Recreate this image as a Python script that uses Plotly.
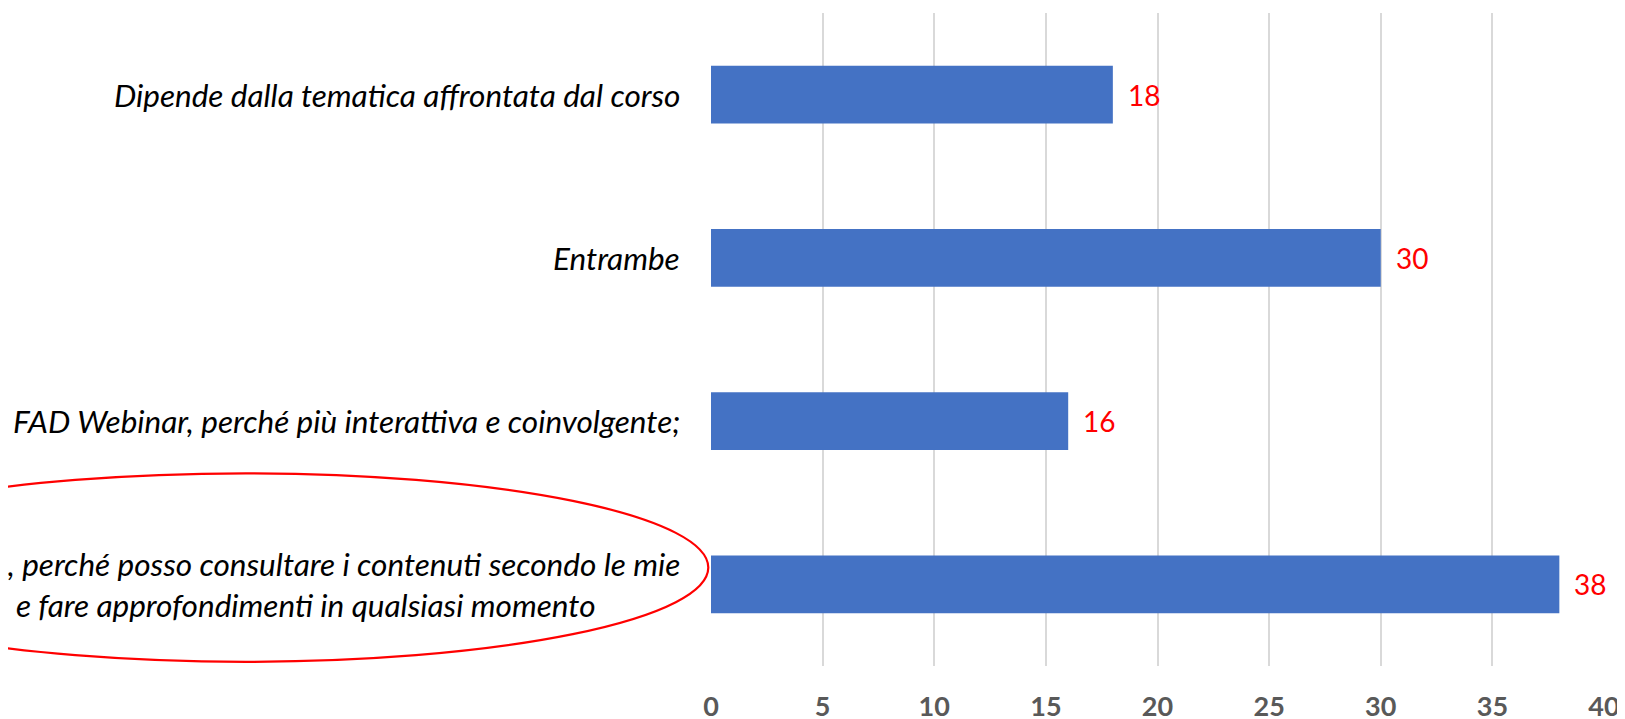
import plotly.graph_objects as go

categories = [
    "Dipende dalla tematica affrontata dal corso",
    "Entrambe",
    "FAD Webinar, perché più interattiva e coinvolgente;",
    "FAD Asincrona, perché posso consultare i contenuti secondo le mie<br>esigenze e fare approfondimenti in qualsiasi momento",
]
values = [18, 30, 16, 38]
x_ticks = [0, 5, 10, 15, 20, 25, 30, 35, 40]

# the page body has an 8px default margin; figure sized/margined to compensate
OFF = 8
W, H = 1625 - OFF, 719 - OFF
L, R, T, B = 702.7, 20.7, 4.7, 53.3

fig = go.Figure()
fig.add_trace(go.Bar(
    x=values, y=list(range(len(categories))), orientation="h",
    marker=dict(color="#4472C4", line=dict(width=0)),
    width=0.355, hoverinfo="skip",
))

# data labels
for i, v in enumerate(values):
    fig.add_annotation(x=v, y=i, xref="x", yref="y", text=str(v), showarrow=False,
                       xanchor="left", yanchor="middle", xshift=13,
                       font=dict(family="Lato", size=28, color="#FF0000"))

# category labels (centered multi-line, right-anchored)
for i, c in enumerate(categories):
    fig.add_annotation(x=0, y=i, xref="x", yref="y", text="<i>" + c + "</i>", showarrow=False,
                       xanchor="right", yanchor="middle", xshift=-29, align="center",
                       font=dict(family="Lato", size=31.5, color="#000000"))

plot_w = W - L - R
plot_h = H - T - B
def px_x(p):
    return (p - OFF - L) / plot_w
def px_y(p):
    return (H - B - (p - OFF)) / plot_h

fig.add_shape(type="circle", xref="paper", yref="paper",
              x0=px_x(-218), x1=px_x(708), y0=px_y(661.5), y1=px_y(473),
              line=dict(color="#FF0000", width=2.2), layer="above")

fig.update_layout(
    width=W, height=H,
    margin=dict(l=L, r=R, t=T, b=B, pad=0, autoexpand=False),
    paper_bgcolor="white", plot_bgcolor="white",
    showlegend=False, bargap=0.645,
    xaxis=dict(range=[0, 40], tickvals=x_ticks, ticktext=[str(t) for t in x_ticks],
               showgrid=True, gridcolor="#D9D9D9", gridwidth=1.5, zeroline=False,
               showline=False, ticks="", ticklabelstandoff=22, automargin=False,
               tickfont=dict(family="Lato", size=27, color="#595959", weight="bold")),
    yaxis=dict(range=[3.5, -0.5], showticklabels=False, showgrid=False, zeroline=False,
               showline=False, ticks="", automargin=False),
)

fig.write_html("out.html")
